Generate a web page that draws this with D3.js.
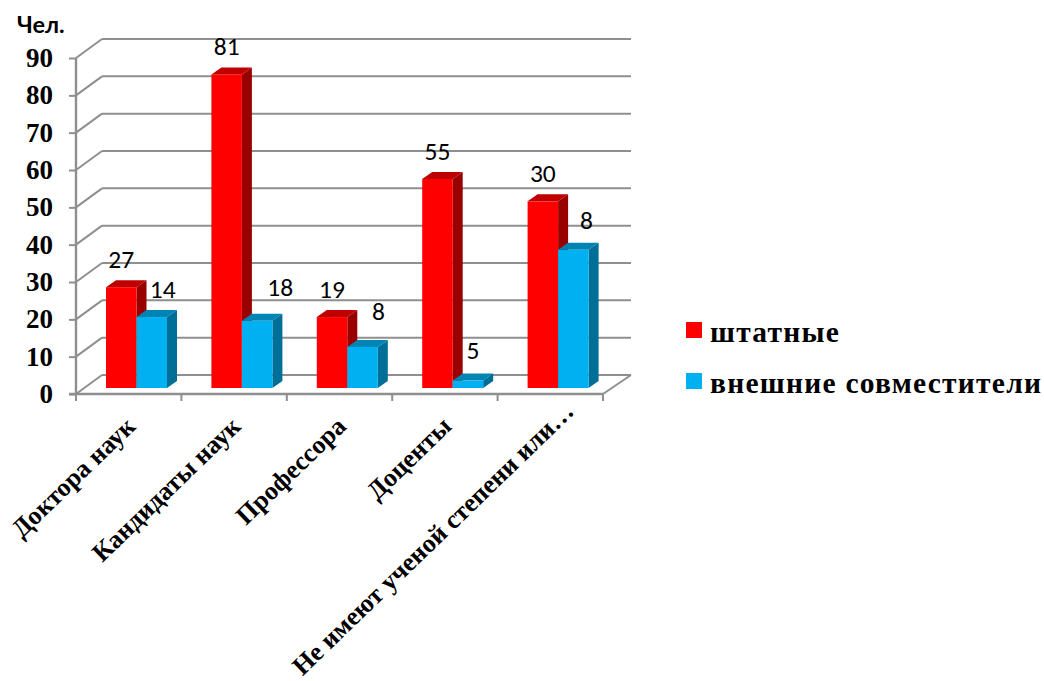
<!DOCTYPE html>
<html lang="ru">
<head>
<meta charset="utf-8">
<script src="https://cdn.jsdelivr.net/npm/d3@7/dist/d3.min.js"></script>
<style>
html,body{margin:0;padding:0;background:#fff;}
svg{display:block;}
</style>
</head>
<body>
<svg id="chart" width="1044" height="681"></svg>
<script>
const categories = ["Доктора наук", "Кандидаты наук", "Профессора", "Доценты", "Не имеют ученой степени или…"];
const seriesNames = ["штатные", "внешние совместители"];
const staffHeights = [27, 84, 19, 56, 50];
const partTimeHeights = [19, 18, 11, 2, 37];
const staffLabels = ["27", "81", "19", "55", "30"];
const partTimeLabels = ["14", "18", "8", "5", "8"];
const yTicks = [0, 10, 20, 30, 40, 50, 60, 70, 80, 90];
const yUnit = "Чел.";

// layout (separate from data)
const W = 1044, H = 681;
const axisLeft = 76, axisRight = 603, axisBottom = 394, axisTop = 58;
const wallDx = 26, wallDy = -19;
const barLift = -6, barDx = 10, barDy = -7;
const partTimeNudge = [[11, -27], [23, -33], [16, -35], [5, -30], [13, -29]];
const categoryNudge = [[0, 0], [0, 0], [0, 0], [0, 0], [17, -15]];
const colors = {
  staff: {front: "#ff0000", top: "#bf0000", side: "#990000"},
  part: {front: "#00b0f0", top: "#0084b4", side: "#006f98"},
  grid: "#8f8f8f"
};

const svg = d3.select("#chart");
const x = d3.scaleBand().domain(categories).range([axisLeft, axisRight]).paddingInner(0).paddingOuter(0);
const y = d3.scaleLinear().domain([0, 90]).range([axisBottom, axisTop]);
const barW = 30.5;
const groupOffset = 30;

// walls
const wall = svg.append("g").attr("fill", "none").attr("stroke", colors.grid).attr("stroke-width", 2);
wall.selectAll("line.back").data(yTicks).join("line").attr("class", "back")
  .attr("x1", axisLeft + wallDx).attr("x2", 631)
  .attr("y1", d => y(d) + wallDy).attr("y2", d => y(d) + wallDy);
wall.selectAll("line.diag").data(yTicks).join("line").attr("class", "diag")
  .attr("x1", axisLeft).attr("x2", axisLeft + wallDx)
  .attr("y1", d => y(d)).attr("y2", d => y(d) + wallDy);
wall.append("line").attr("x1", axisRight).attr("y1", y(0)).attr("x2", 631).attr("y2", y(0) + wallDy);

// axes
const yAxis = d3.axisLeft(y).tickValues(yTicks).tickSize(7).tickPadding(16).tickFormat(d3.format("d"));
const yg = svg.append("g").attr("transform", `translate(${axisLeft},0)`).call(yAxis);
yg.select(".domain").attr("d", `M0,${axisTop}V${axisBottom}`).attr("stroke", colors.grid).attr("stroke-width", 2.4);
yg.selectAll(".tick line").attr("stroke", colors.grid).attr("stroke-width", 2);
yg.selectAll("text")
  .attr("font-family", "'Liberation Serif', serif").attr("font-weight", "bold").attr("font-size", 27).attr("fill", "#000");

const xAxis = d3.axisBottom(x).tickSize(0).tickFormat("");
const xg = svg.append("g").attr("transform", `translate(0,${axisBottom})`).call(xAxis);
xg.select(".domain").attr("d", `M${axisLeft - 7},0H${axisRight}`).attr("stroke", colors.grid).attr("stroke-width", 2.4);
xg.selectAll(".tick line").remove();
const edgeTicks = d3.range(categories.length + 1).map(i => axisLeft + i * x.step());
xg.selectAll("line.edge").data(edgeTicks).join("line").attr("class", "edge")
  .attr("x1", d => d).attr("x2", d => d).attr("y1", 0).attr("y2", 7)
  .attr("stroke", colors.grid).attr("stroke-width", 2);

xg.selectAll("text").remove();
svg.append("g").selectAll("text").data(categories).join("text")
  .attr("text-anchor", "end")
  .attr("font-family", "'Liberation Serif', serif").attr("font-weight", "bold").attr("font-size", 26).attr("fill", "#000")
  .attr("transform", (d, i) => `translate(${x(d) + x.bandwidth() / 2 + 8 + categoryNudge[i][0]},${axisBottom + 34 + categoryNudge[i][1]}) rotate(-44)`)
  .text(d => d);

// bars
function bar3d(g, x0, val, w, c) {
  const y0 = y(0) + barLift, yt = y(val) + barLift;
  g.append("polygon").attr("fill", c.side).attr("points",
    [[x0 + w, yt], [x0 + w + barDx, yt + barDy], [x0 + w + barDx, y0 + barDy], [x0 + w, y0]].join(" "));
  g.append("polygon").attr("fill", c.top).attr("points",
    [[x0, yt], [x0 + barDx, yt + barDy], [x0 + w + barDx, yt + barDy], [x0 + w, yt]].join(" "));
  g.append("rect").attr("fill", c.front).attr("x", x0).attr("y", yt).attr("width", w).attr("height", y0 - yt);
}
const bars = svg.append("g");
categories.forEach((cat, i) => {
  const g = bars.append("g");
  bar3d(g, x(cat) + groupOffset, staffHeights[i], barW, colors.staff);
  bar3d(g, x(cat) + groupOffset + barW, partTimeHeights[i], barW, colors.part);
});

// data labels
const lab = svg.append("g").attr("font-family", "Carlito, Lato, sans-serif").attr("font-size", 25.5).attr("fill", "#000").attr("text-anchor", "middle");
categories.forEach((cat, i) => {
  lab.append("text")
    .attr("x", x(cat) + groupOffset + barW / 2)
    .attr("y", y(staffHeights[i]) + barLift - 27 + 8)
    .text(staffLabels[i]);
  const n = partTimeNudge[i];
  lab.append("text")
    .attr("x", x(cat) + groupOffset + barW * 1.5 + n[0])
    .attr("y", y(partTimeHeights[i]) + barLift + n[1] + 8)
    .text(partTimeLabels[i]);
});

// unit label
svg.append("text").attr("x", 17).attr("y", 33)
  .attr("font-family", "Lato, 'Liberation Sans', sans-serif").attr("font-weight", "bold").attr("font-size", 23.5).attr("fill", "#000")
  .text(yUnit);

// legend
const legendColors = [colors.staff.front, colors.part.front];
const legendY = [322, 373];
const leg = svg.append("g");
seriesNames.forEach((s, i) => {
  leg.append("rect").attr("x", 686).attr("y", legendY[i]).attr("width", 16).attr("height", 16).attr("fill", legendColors[i]);
  leg.append("text").attr("x", 710).attr("y", legendY[i] + 20)
    .attr("font-family", "'Liberation Serif', serif").attr("font-weight", "bold").attr("font-size", 29.5).attr("letter-spacing", 1.25).attr("fill", "#000")
    .text(s);
});
</script>
</body>
</html>
